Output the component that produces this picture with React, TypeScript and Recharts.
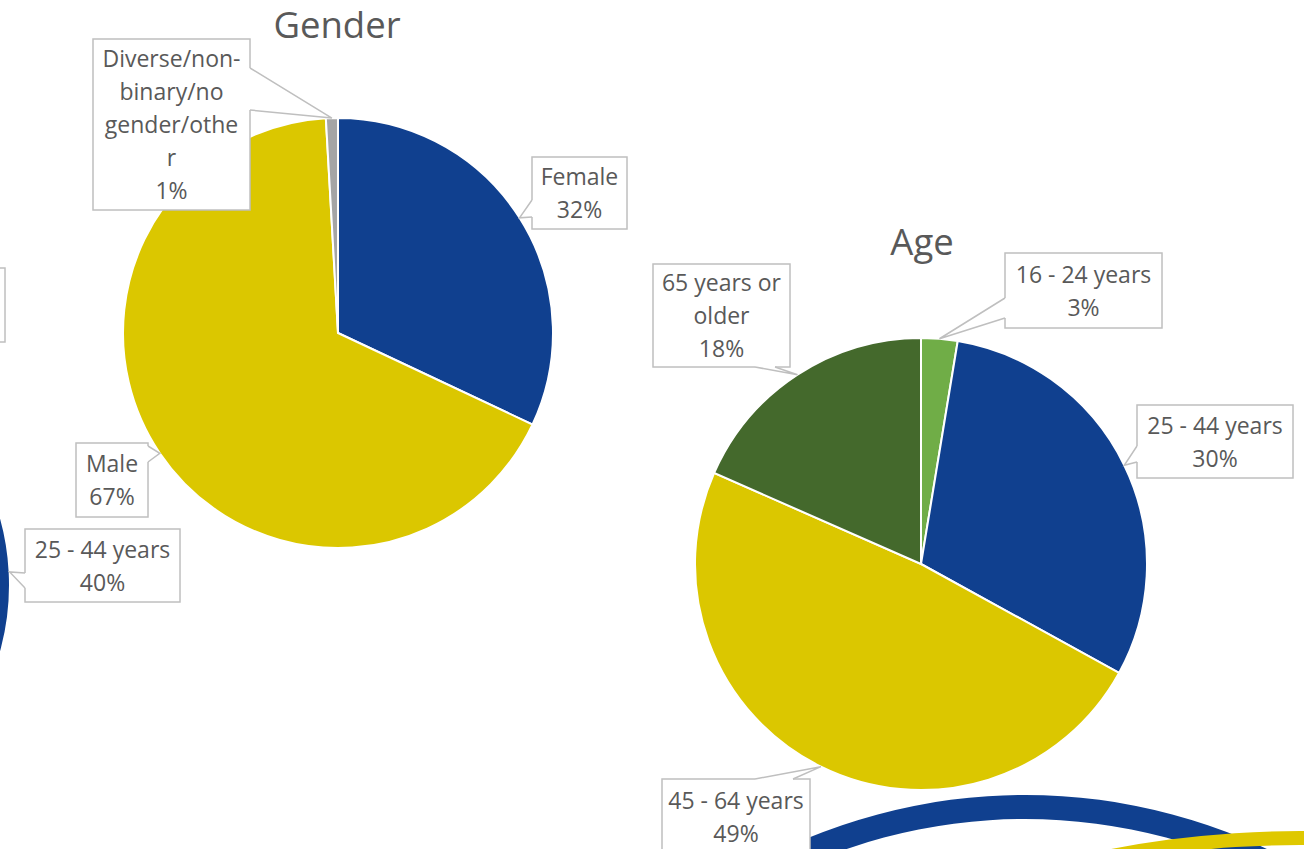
import { PieChart, Pie, Cell, Customized } from "recharts";

// Gender chart
const genderNames = ["Female", "Male", "Diverse/non-binary/no gender/other"];
const genderValues = [32, 67.1, 0.9];
const genderLines = [["Female"], ["Male"], ["Diverse/non-", "binary/no", "gender/othe", "r"]];
const genderColors = ["#10408F", "#DBC700", "#A5A5A5"];

// Age chart
const ageNames = ["16 - 24 years", "25 - 44 years", "45 - 64 years", "65 years or older"];
const ageValues = [2.6, 30.4, 48.6, 18.4];
const ageLines = [["16 - 24 years"], ["25 - 44 years"], ["45 - 64 years"], ["65 years or", "older"]];
const ageColors = ["#70AD47", "#10408F", "#DBC700", "#44692C"];

// neighbouring chart, only one slice (40%) reaches into view
const leftNames = ["25 - 44 years"];
const leftValues = [40];
const leftLines = [["25 - 44 years"]];

// slide decoration rings
const ringValues = [1];

const TEXT = "#595959";
const BORDER = "#BFBFBF";
const FONT = "'Open Sans', sans-serif";
const RAD = Math.PI / 180;

type Box = { x: number; y: number; w: number; h: number; b1: [number, number]; b2: [number, number] };

const genderBoxes: Box[] = [
    { x: 532, y: 157, w: 95, h: 72, b1: [532, 200], b2: [532, 217] },
    { x: 76, y: 443, w: 72, h: 74, b1: [148, 446], b2: [148, 462] },
    { x: 93, y: 39, w: 157, h: 171, b1: [250, 68], b2: [250, 110] },
];
const ageBoxes: Box[] = [
    { x: 1005, y: 253, w: 157, h: 75, b1: [1005, 298], b2: [1005, 318] },
    { x: 1137, y: 405, w: 156, h: 73, b1: [1137, 446], b2: [1137, 462] },
    { x: 662, y: 779, w: 148, h: 76, b1: [755, 779], b2: [793, 779] },
    { x: 653, y: 264, w: 137, h: 103, b1: [755, 367], b2: [775, 367] },
];
const leftBoxes: Box[] = [{ x: 25, y: 529, w: 155, h: 73, b1: [25, 573], b2: [25, 588] }];

function makeLabel(boxes: Box[], lines: string[][], valueIsPercent = false) {
    return (props: any) => {
        const { cx, cy, midAngle, outerRadius, percent, value, index } = props;
        const box = boxes[index];
        const tx = cx + outerRadius * Math.cos(-midAngle * RAD);
        const ty = cy + outerRadius * Math.sin(-midAngle * RAD);
        const pct = valueIsPercent ? value : percent * 100;
        const text = [...lines[index], `${Math.round(pct)}%`];
        const lh = 33;
        const top = box.y + (box.h - text.length * lh) / 2;
        return (
            <g key={`lbl-${index}`}>
                <rect x={box.x} y={box.y} width={box.w} height={box.h} fill="#fff" stroke={BORDER} strokeWidth={1.5} />
                <polygon points={`${box.b1[0]},${box.b1[1]} ${tx},${ty} ${box.b2[0]},${box.b2[1]}`} fill="#fff" stroke="none" />
                <line x1={box.b1[0]} y1={box.b1[1]} x2={box.b2[0]} y2={box.b2[1]} stroke="#fff" strokeWidth={3} />
                <polyline
                    points={`${box.b1[0]},${box.b1[1]} ${tx},${ty} ${box.b2[0]},${box.b2[1]}`}
                    fill="none"
                    stroke={BORDER}
                    strokeWidth={1.5}
                />
                {text.map((t, i) => (
                    <text
                        key={i}
                        x={box.x + box.w / 2}
                        y={top + lh * i + 25}
                        textAnchor="middle"
                        fontFamily={FONT}
                        fontSize={23}
                        fill={TEXT}
                    >
                        {t}
                    </text>
                ))}
            </g>
        );
    };
}

const toData = (names: string[], values: number[]) => names.map((name, i) => ({ name, value: values[i] }));

function Titles() {
    return (
        <g>
            <text x={337} y={38} textAnchor="middle" fontFamily={FONT} fontSize={36.5} fill={TEXT}>
                Gender
            </text>
            <text x={922} y={255} textAnchor="middle" fontFamily={FONT} fontSize={36.5} fill={TEXT}>
                Age
            </text>
            {/* edge of a label box from the chart to the left */}
            <rect x={-100} y={268} width={105} height={74} fill="#fff" stroke={BORDER} strokeWidth={1.5} />
        </g>
    );
}

export default function App() {
    const ring = ringValues.map((value) => ({ name: "ring", value }));
    return (
        <div style={{ position: "fixed", left: 0, top: 0, width: 1304, height: 849, background: "#fff" }}>
            <PieChart width={1304} height={849} margin={{ top: 0, right: 0, bottom: 0, left: 0 }}>
                <Pie
                    data={ring}
                    dataKey="value"
                    cx={1025}
                    cy={1364}
                    innerRadius={545}
                    outerRadius={569}
                    fill="#10408F"
                    stroke="none"
                    isAnimationActive={false}
                />
                <Pie
                    data={ring}
                    dataKey="value"
                    cx={1300}
                    cy={1831}
                    innerRadius={986}
                    outerRadius={1000}
                    fill="#DFC800"
                    stroke="none"
                    isAnimationActive={false}
                />
                <Pie
                    data={toData(leftNames, leftValues)}
                    dataKey="value"
                    cx={-240}
                    cy={585}
                    outerRadius={250}
                    startAngle={75}
                    endAngle={-69}
                    fill="#10408F"
                    stroke="#fff"
                    strokeWidth={2}
                    label={makeLabel(leftBoxes, leftLines, true)}
                    labelLine={false}
                    isAnimationActive={false}
                />
                <Pie
                    data={toData(genderNames, genderValues)}
                    dataKey="value"
                    cx={338}
                    cy={333}
                    outerRadius={215}
                    startAngle={90}
                    endAngle={-270}
                    stroke="#fff"
                    strokeWidth={2}
                    label={makeLabel(genderBoxes, genderLines)}
                    labelLine={false}
                    isAnimationActive={false}
                >
                    {genderValues.map((_, i) => (
                        <Cell key={i} fill={genderColors[i]} />
                    ))}
                </Pie>
                <Pie
                    data={toData(ageNames, ageValues)}
                    dataKey="value"
                    cx={921}
                    cy={564}
                    outerRadius={226}
                    startAngle={90}
                    endAngle={-270}
                    stroke="#fff"
                    strokeWidth={2}
                    label={makeLabel(ageBoxes, ageLines)}
                    labelLine={false}
                    isAnimationActive={false}
                >
                    {ageValues.map((_, i) => (
                        <Cell key={i} fill={ageColors[i]} />
                    ))}
                </Pie>
                <Customized component={Titles} />
            </PieChart>
        </div>
    );
}
